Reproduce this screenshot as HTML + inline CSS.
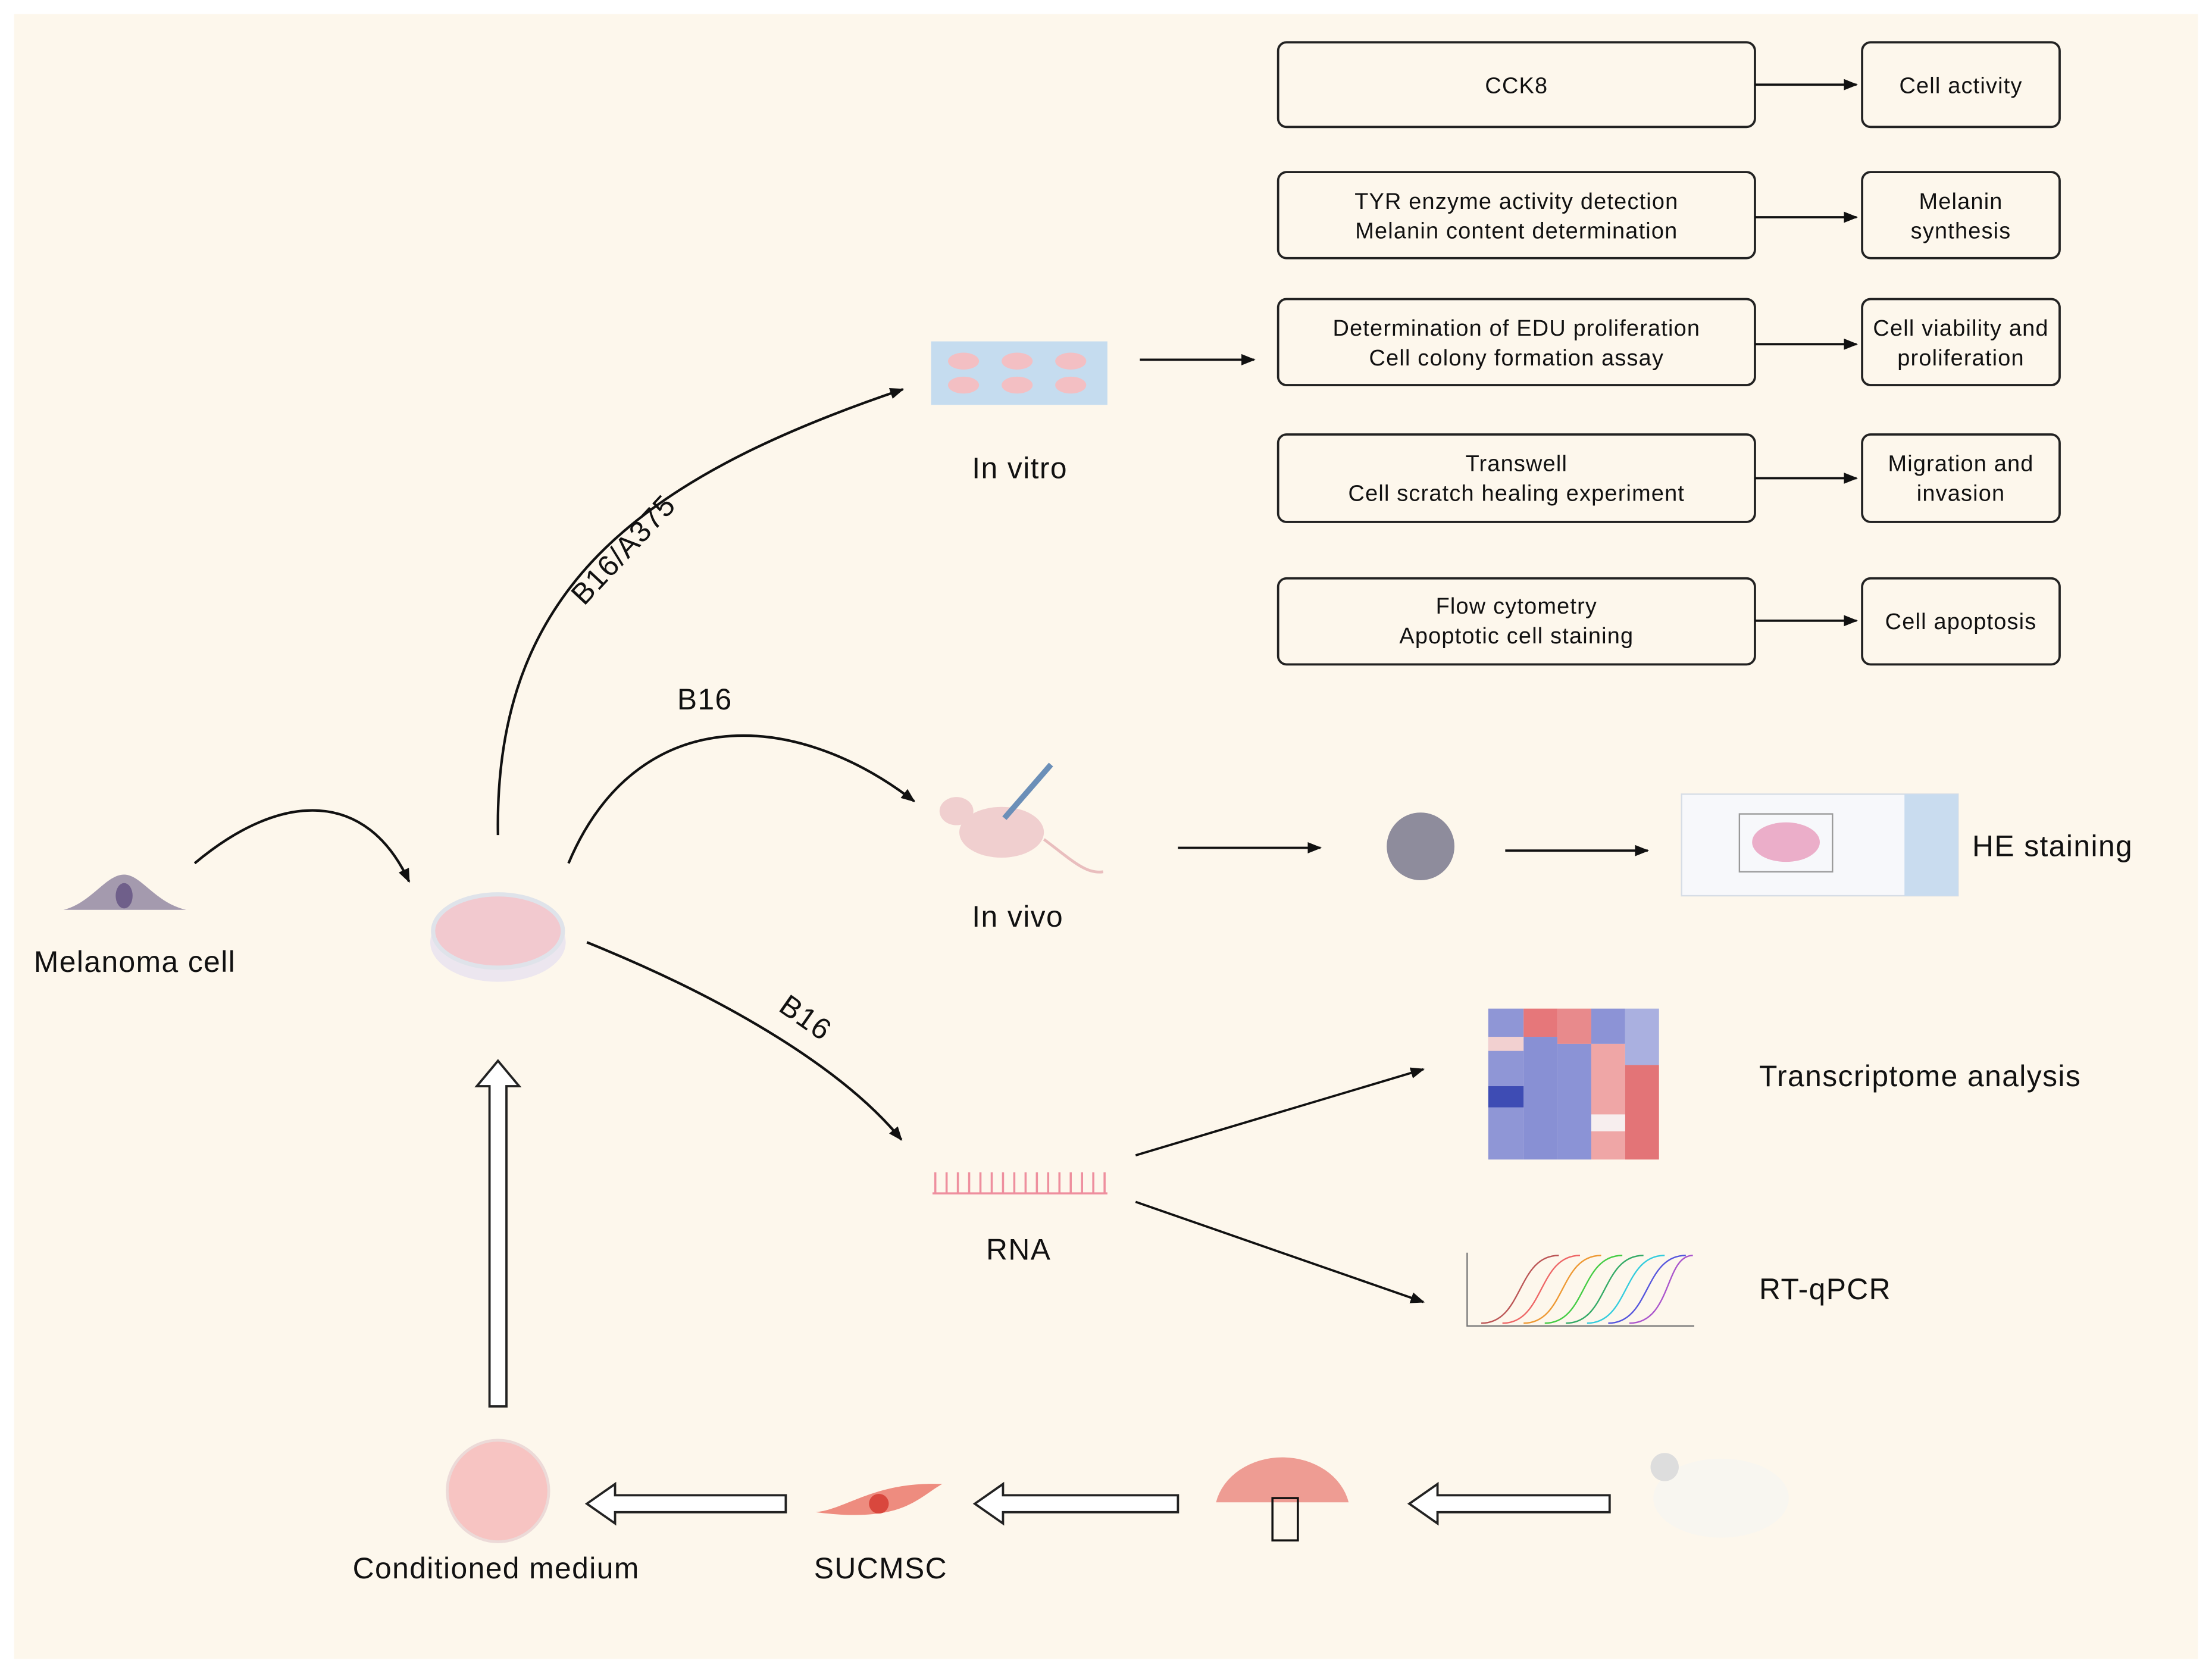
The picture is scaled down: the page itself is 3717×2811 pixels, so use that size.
<!DOCTYPE html>
<html><head><meta charset="utf-8"><style>
html,body{margin:0;padding:0;background:#fff;}
svg{display:block;}
text{font-family:"Liberation Sans",Arial,sans-serif;fill:#111;}
</style></head><body>
<svg width="3717" height="2811" viewBox="0 0 1568 1186" preserveAspectRatio="none">
<defs>
<marker id="a" markerWidth="10" markerHeight="10" refX="9" refY="5" orient="auto" markerUnits="userSpaceOnUse"><path d="M0,1 L10,5 L0,9 Z" fill="#111"/></marker>
</defs>
<rect x="0" y="0" width="1568" height="1186" fill="#fff"/>
<rect x="10" y="10" width="1548" height="1166" fill="#fdf7ec"/>

<g fill="none" stroke="#222" stroke-width="1.6">
<rect x="906" y="30" width="338" height="60" rx="6"/>
<rect x="1320" y="30" width="140" height="60" rx="6"/>
<rect x="906" y="122" width="338" height="61" rx="6"/>
<rect x="1320" y="122" width="140" height="61" rx="6"/>
<rect x="906" y="212" width="338" height="61" rx="6"/>
<rect x="1320" y="212" width="140" height="61" rx="6"/>
<rect x="906" y="308" width="338" height="62" rx="6"/>
<rect x="1320" y="308" width="140" height="62" rx="6"/>
<rect x="906" y="410" width="338" height="61" rx="6"/>
<rect x="1320" y="410" width="140" height="61" rx="6"/>
</g>
<g stroke="#111" stroke-width="1.6" marker-end="url(#a)">
<line x1="1244" y1="60" x2="1316" y2="60"/>
<line x1="1244" y1="154" x2="1316" y2="154"/>
<line x1="1244" y1="244" x2="1316" y2="244"/>
<line x1="1244" y1="339" x2="1316" y2="339"/>
<line x1="1244" y1="440" x2="1316" y2="440"/>
<line x1="808" y1="255" x2="889" y2="255"/>
<line x1="835" y1="601" x2="936" y2="601"/>
<line x1="1067" y1="603" x2="1168" y2="603"/>
<line x1="805" y1="819" x2="1009" y2="758"/>
<line x1="805" y1="852" x2="1009" y2="923"/>
</g>
<g font-size="16" text-anchor="middle" letter-spacing="0.5">
<text x="1075" y="66">CCK8</text>
<text x="1390" y="66">Cell activity</text>
<text x="1075" y="148">TYR enzyme activity detection</text>
<text x="1075" y="169">Melanin content determination</text>
<text x="1390" y="148">Melanin</text>
<text x="1390" y="169">synthesis</text>
<text x="1075" y="238">Determination of EDU proliferation</text>
<text x="1075" y="259">Cell colony formation assay</text>
<text x="1390" y="238">Cell viability and</text>
<text x="1390" y="259">proliferation</text>
<text x="1075" y="334">Transwell</text>
<text x="1075" y="355">Cell scratch healing experiment</text>
<text x="1390" y="334">Migration and</text>
<text x="1390" y="355">invasion</text>
<text x="1075" y="435">Flow cytometry</text>
<text x="1075" y="456">Apoptotic cell staining</text>
<text x="1390" y="446">Cell apoptosis</text>
</g>

<g fill="none" stroke="#111" stroke-width="1.8" marker-end="url(#a)">
<path d="M138,612 C200,560 260,560 290,625"/>
<path d="M353,592 C350,420 450,340 640,276"/>
<path d="M403,612 C450,500 560,500 648,568"/>
<path d="M416,668 C520,710 600,760 639,808"/>
</g>
<g font-size="21" letter-spacing="0.6">
<text x="0" y="0" transform="translate(414,430) rotate(-47)">B16/A375</text>
<text x="480" y="503">B16</text>
<text x="0" y="0" transform="translate(551,716) rotate(35)">B16</text>
<text x="24" y="689">Melanoma cell</text>
<text x="689" y="339">In vitro</text>
<text x="689" y="657">In vivo</text>
<text x="699" y="893">RNA</text>
<text x="1398" y="607">HE staining</text>
<text x="1247" y="770">Transcriptome analysis</text>
<text x="1247" y="921">RT-qPCR</text>
<text x="250" y="1119">Conditioned medium</text>
<text x="577" y="1119">SUCMSC</text>
</g>

<path d="M45,645 C65,640 75,620 88,620 C100,620 110,640 132,645 Z" fill="#a49aae"/>
<ellipse cx="88" cy="635" rx="6" ry="9" fill="#6f5f8a"/>
<ellipse cx="353" cy="668" rx="48" ry="28" fill="#ece6ef"/>
<ellipse cx="353" cy="660" rx="46" ry="26" fill="#f2c9cf" stroke="#dfe3ea" stroke-width="3"/>
<rect x="660" y="242" width="125" height="45" fill="#c5dcef"/>
<g fill="#f3bfc3"><ellipse cx="683" cy="256" rx="11" ry="6"/><ellipse cx="721" cy="256" rx="11" ry="6"/><ellipse cx="759" cy="256" rx="11" ry="6"/><ellipse cx="683" cy="273" rx="11" ry="6"/><ellipse cx="721" cy="273" rx="11" ry="6"/><ellipse cx="759" cy="273" rx="11" ry="6"/></g>
<ellipse cx="710" cy="590" rx="30" ry="18" fill="#f0cfcf"/>
<ellipse cx="678" cy="575" rx="12" ry="10" fill="#f0cfcf"/>
<path d="M740,595 C760,610 770,620 782,618" stroke="#e9bebe" stroke-width="2" fill="none"/>
<line x1="712" y1="580" x2="745" y2="542" stroke="#6b8fb8" stroke-width="4"/>
<circle cx="1007" cy="600" r="24" fill="#8e8c9c"/>
<rect x="1192" y="563" width="196" height="72" fill="#f7f8fb" stroke="#d6dde6"/>
<rect x="1350" y="563" width="38" height="72" fill="#c9dcef"/>
<rect x="1233" y="577" width="66" height="41" fill="none" stroke="#999"/>
<ellipse cx="1266" cy="597" rx="24" ry="14" fill="#ebaec9"/>
<g stroke="#ee8f9e" stroke-width="1.5">
<line x1="661" y1="846" x2="785" y2="846"/>
<path d="M663,846V831M671,846V831M679,846V831M687,846V831M695,846V831M703,846V831M711,846V831M719,846V831M727,846V831M735,846V831M743,846V831M751,846V831M759,846V831M767,846V831M775,846V831M783,846V831"/>
</g>
<g>
<rect x="1055" y="715" width="25" height="107" fill="#8f96d6"/>
<rect x="1080" y="715" width="24" height="20" fill="#e6777a"/>
<rect x="1080" y="735" width="24" height="87" fill="#8890d4"/>
<rect x="1104" y="715" width="24" height="25" fill="#e88a8c"/>
<rect x="1104" y="740" width="24" height="82" fill="#8b93d6"/>
<rect x="1128" y="715" width="24" height="25" fill="#8c93d6"/>
<rect x="1128" y="740" width="24" height="82" fill="#efa6a6"/>
<rect x="1152" y="715" width="24" height="40" fill="#aab0e0"/>
<rect x="1152" y="755" width="24" height="67" fill="#e37477"/>
<rect x="1055" y="770" width="25" height="15" fill="#3e4cb4"/>
<rect x="1128" y="790" width="24" height="12" fill="#f7eeee"/>
<rect x="1055" y="735" width="25" height="10" fill="#f2d0d0"/>
</g>
<g fill="none" stroke-width="1">
<path d="M1040,888V940H1201" stroke="#777"/>
<path d="M1050,938 C1080,938 1075,890 1105,890" stroke="#b55"/>
<path d="M1065,938 C1095,938 1090,890 1120,890" stroke="#e66"/>
<path d="M1080,938 C1110,938 1105,890 1135,890" stroke="#e93"/>
<path d="M1095,938 C1125,938 1120,890 1150,890" stroke="#4c4"/>
<path d="M1110,938 C1140,938 1135,890 1165,890" stroke="#3a6"/>
<path d="M1125,938 C1155,938 1150,890 1180,890" stroke="#3cd"/>
<path d="M1140,938 C1170,938 1165,890 1195,890" stroke="#55d"/>
<path d="M1155,938 C1185,938 1180,890 1200,890" stroke="#a5c"/>
</g>
<circle cx="353" cy="1057" r="36" fill="#f7c4c2" stroke="#ecdad8" stroke-width="2"/>
<path d="M578,1072 C600,1070 620,1050 668,1052 C650,1062 640,1080 578,1072 Z" fill="#ee8c7f"/>
<circle cx="623" cy="1066" r="7" fill="#d9473d"/>
<path d="M862,1065 A48,40 0 0 1 956,1065 Z" fill="#ee9c93"/>
<rect x="902" y="1062" width="18" height="30" fill="none" stroke="#111" stroke-width="1.5"/>
<ellipse cx="1220" cy="1062" rx="48" ry="28" fill="#f8f6f0"/>
<circle cx="1180" cy="1040" r="10" fill="#ddd"/>
<g fill="#fff" stroke="#222" stroke-width="1.6">
<path d="M347,997 V770 H338 L353,752 L368,770 H359 V997 Z"/>
<path d="M557,1060 H436 V1052 L416,1066 L436,1080 V1072 H557 Z"/>
<path d="M835,1060 H711 V1052 L691,1066 L711,1080 V1072 H835 Z"/>
<path d="M1141,1060 H1019 V1052 L999,1066 L1019,1080 V1072 H1141 Z"/>
</g>
</svg>
</body></html>
